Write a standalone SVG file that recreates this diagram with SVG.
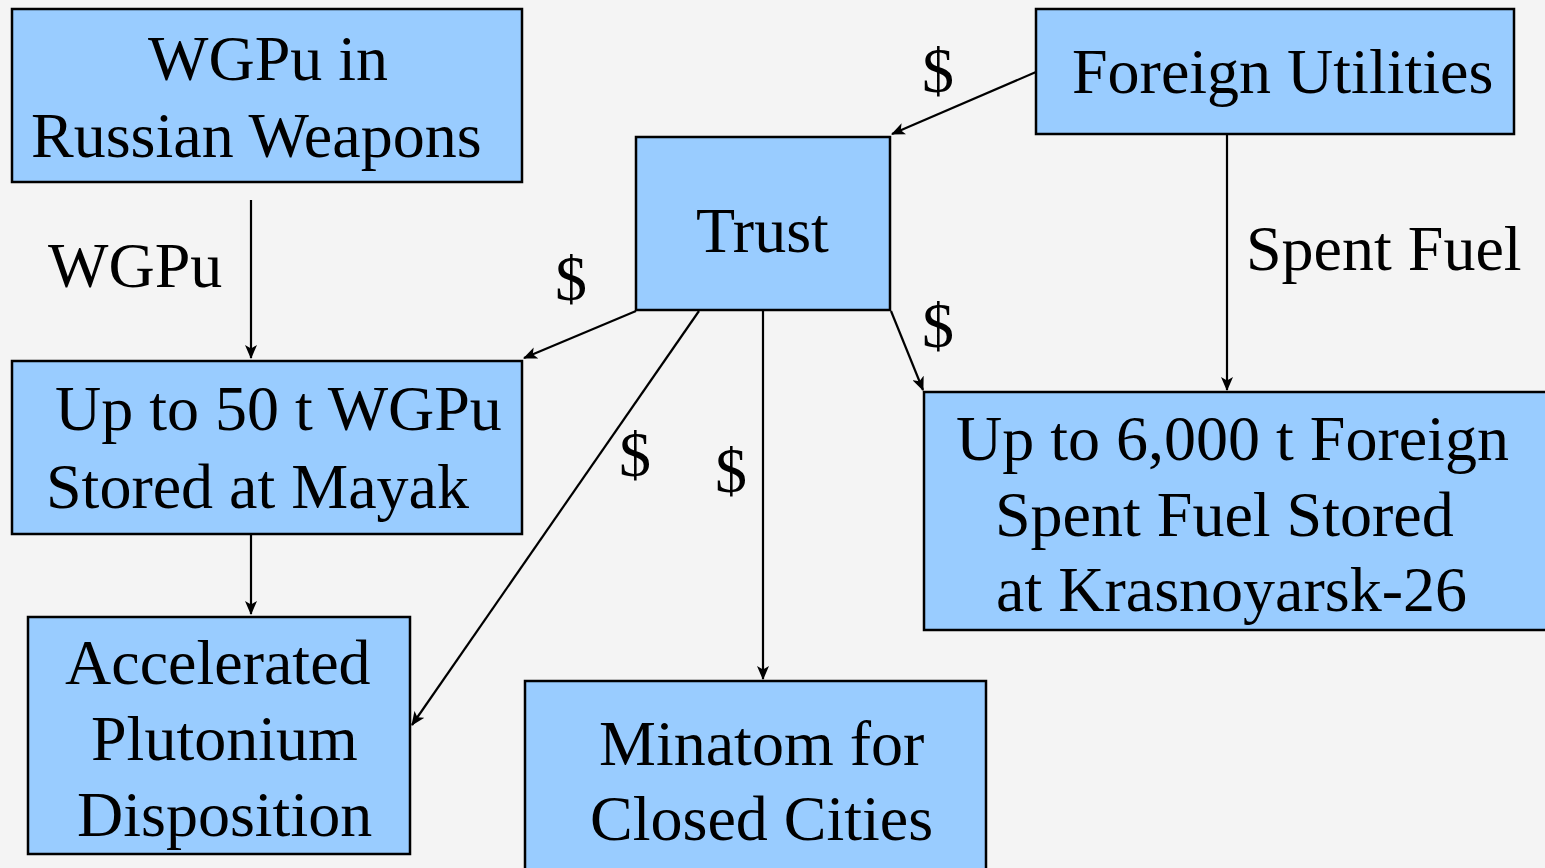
<svg xmlns="http://www.w3.org/2000/svg" width="1545" height="868" viewBox="0 0 1545 868">
<style>
.box{fill:#99ccff;stroke:#000;stroke-width:2.5}
.t{font-family:"Liberation Serif","Times New Roman",serif;font-size:64px;fill:#000}
.c{stroke:#000;stroke-width:2.2;fill:none;marker-end:url(#ah)}
</style>
<defs>
<marker id="ah" viewBox="0 0 14 12" refX="13" refY="6" markerWidth="14" markerHeight="12" markerUnits="userSpaceOnUse" orient="auto">
<path d="M0,0 L14,6 L0,12 L3.5,6 Z" fill="#000"/>
</marker>
</defs>
<rect width="1545" height="868" fill="#f4f4f4"/>
<g id="connectors">
<line class="c" x1="1036" y1="72" x2="892" y2="134"/>
<line class="c" x1="251" y1="200" x2="251" y2="358"/>
<line class="c" x1="636" y1="311" x2="524" y2="358"/>
<line class="c" x1="891" y1="311" x2="923" y2="390"/>
<line class="c" x1="699" y1="311" x2="412" y2="725"/>
<line class="c" x1="763" y1="311" x2="763" y2="679"/>
<line class="c" x1="1227" y1="134" x2="1227" y2="390"/>
<line class="c" x1="251" y1="535" x2="251" y2="614"/>
</g>
<g id="labels">
<text class="t" x="48" y="287">WGPu</text>
<text class="t" x="1246" y="270">Spent Fuel</text>
<text class="t" x="938" y="92" text-anchor="middle">$</text>
<text class="t" x="571" y="300" text-anchor="middle">$</text>
<text class="t" x="938" y="347" text-anchor="middle">$</text>
<text class="t" x="635" y="476" text-anchor="middle">$</text>
<text class="t" x="731" y="492" text-anchor="middle">$</text>
</g>
<g id="node-wgpu">
<rect class="box" x="12" y="9" width="510" height="173"/>
<text class="t" x="268" y="80" text-anchor="middle">WGPu in</text>
<text class="t" x="31" y="157">Russian Weapons</text>
</g>
<g id="node-foreign">
<rect class="box" x="1036" y="9" width="478" height="125"/>
<text class="t" x="1072" y="93">Foreign Utilities</text>
</g>
<g id="node-trust">
<rect class="box" x="636" y="137" width="254" height="173"/>
<text class="t" x="696" y="252">Trust</text>
</g>
<g id="node-mayak">
<rect class="box" x="12" y="361" width="510" height="173"/>
<text class="t" x="55" y="430">Up to 50 t WGPu</text>
<text class="t" x="46" y="508">Stored at Mayak</text>
</g>
<g id="node-krasnoyarsk">
<rect class="box" x="924" y="392" width="630" height="238"/>
<text class="t" x="956" y="460">Up to 6,000 t Foreign</text>
<text class="t" x="995" y="536">Spent Fuel Stored</text>
<text class="t" x="996" y="611">at Krasnoyarsk-26</text>
</g>
<g id="node-accelerated">
<rect class="box" x="28" y="617" width="382" height="237"/>
<text class="t" x="65" y="684">Accelerated</text>
<text class="t" x="91" y="760">Plutonium</text>
<text class="t" x="77" y="836">Disposition</text>
</g>
<g id="node-minatom">
<rect class="box" x="525" y="681" width="461" height="200"/>
<text class="t" x="599" y="765">Minatom for</text>
<text class="t" x="590" y="840">Closed Cities</text>
</g>
</svg>
